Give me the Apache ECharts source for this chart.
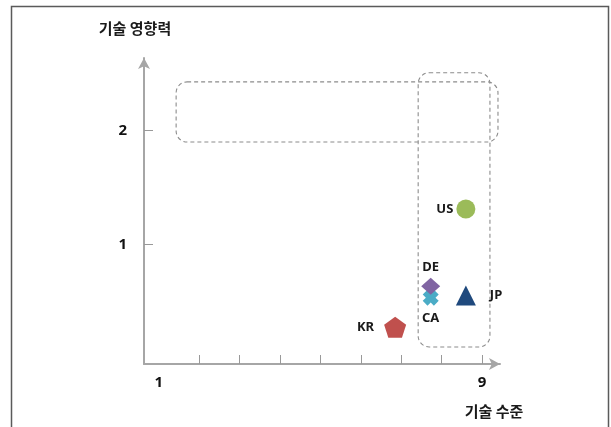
<!DOCTYPE html>
<html>
<head>
<meta charset="utf-8">
<script src="https://cdn.jsdelivr.net/npm/echarts@6/dist/echarts.min.js"></script>
<style>
  html, body { margin: 0; padding: 0; background: #fff; }
  #chart { width: 611px; height: 427px; }
</style>
</head>
<body>
<div id="chart"></div>
<script>
// ---- data ----
const countries = ['KR', 'CA', 'DE', 'JP', 'US'];
const techLevel = [6.85, 7.73, 7.73, 8.60, 8.60];   // 기술 수준 (x)
const techImpact = [0.27, 0.53, 0.63, 0.55, 1.31];  // 기술 영향력 (y)
const xLabelValues = [1, 9];
const xTickValues = [2, 3, 4, 5, 6, 7, 8, 9];
const yLabelValues = [1, 2];
const yTickValues = [1, 2];
const xAxisName = '기술 수준';
const yAxisName = '기술 영향력';
// highlighted regions (data units): [xFrom, xTo, yFrom, yTo]
const highlightBoxes = [
  [1.43, 9.395, 1.90, 2.43],
  [7.42, 9.196, 0.096, 2.51]
];

// ---- styles ----
const pentagonPath = 'path://M10,0 L19.51,6.91 L15.88,18.09 L4.12,18.09 L0.49,6.91 Z';
const crossPath = 'path://M0,3 L3,0 L5,2 L7,0 L10,3 L8,5 L10,7 L7,10 L5,8 L3,10 L0,7 L2,5 Z';
const styles = {
  KR: { symbol: pentagonPath, size: [22, 21], color: '#c0504d', pos: 'left', dist: 10 },
  CA: { symbol: crossPath, size: [16, 16], color: '#4bacc6', pos: 'bottom', dist: 6 },
  DE: { symbol: 'diamond', size: [19, 17], color: '#8064a2', pos: 'top', dist: 4 },
  JP: { symbol: 'triangle', size: [20, 20], color: '#1f497d', pos: 'right', dist: 14 },
  US: { symbol: 'circle', size: [19, 19], color: '#9bbb59', pos: 'left', dist: 3 }
};

const labelFont = { fontFamily: 'Noto Sans', fontWeight: 'bold', fontSize: 13, color: '#1a1a1a' };

const series = countries.map((c, i) => ({
  name: c,
  type: 'scatter',
  symbol: styles[c].symbol,
  symbolSize: styles[c].size,
  itemStyle: { color: styles[c].color, opacity: 1 },
  label: {
    show: true,
    formatter: c,
    position: styles[c].pos,
    distance: styles[c].dist,
    ...labelFont
  },
  data: [[techLevel[i], techImpact[i]]],
  z: 3 + i
}));

const axisLineColor = '#a6a6a6';

const chart = echarts.init(document.getElementById('chart'), null, { renderer: 'canvas' });
const option = {
  backgroundColor: '#ffffff',
  animation: false,
  grid: { left: 144, right: 111, top: 58, bottom: 63 },
  xAxis: {
    type: 'value',
    min: 0.635,
    max: 9.445,
    name: xAxisName,
    nameLocation: 'end',
    nameGap: -6,
    nameTextStyle: {
      fontFamily: 'Noto Sans CJK KR', fontSize: 15, fontWeight: 'bold', color: '#1a1a1a',
      align: 'center', verticalAlign: 'top', padding: [40, 0, 0, 0]
    },
    axisLine: {
      onZero: false,
      lineStyle: { color: axisLineColor, width: 2 },
      symbol: ['none', 'arrow'],
      symbolSize: [9, 11]
    },
    axisTick: {
      show: true, inside: true, length: 9,
      customValues: xTickValues,
      lineStyle: { color: '#999', width: 1 }
    },
    axisLabel: {
      customValues: xLabelValues,
      margin: 11,
      fontFamily: 'Noto Sans', fontWeight: 'bold', fontSize: 15, color: '#111'
    },
    splitLine: { show: false }
  },
  yAxis: {
    type: 'value',
    min: -0.054,
    max: 2.64,
    name: yAxisName,
    nameLocation: 'end',
    nameGap: 22,
    nameTextStyle: {
      fontFamily: 'Noto Sans CJK KR', fontSize: 15, fontWeight: 'bold', color: '#1a1a1a',
      align: 'center', padding: [0, 18, 0, 0]
    },
    axisLine: {
      show: true,
      onZero: false,
      lineStyle: { color: axisLineColor, width: 2 },
      symbol: ['none', 'arrow'],
      symbolSize: [9, 11]
    },
    axisTick: {
      show: true, inside: true, length: 9,
      customValues: yTickValues,
      lineStyle: { color: '#999', width: 1 }
    },
    axisLabel: {
      customValues: yLabelValues,
      margin: 17,
      fontFamily: 'Noto Sans', fontWeight: 'bold', fontSize: 15, color: '#111'
    },
    splitLine: { show: false }
  },
  series: series
};
chart.setOption(option);

// annotation boxes + frame, positioned through the chart's own scales
const graphics = highlightBoxes.map(b => {
  const p1 = chart.convertToPixel({ gridIndex: 0 }, [b[0], b[3]]);
  const p2 = chart.convertToPixel({ gridIndex: 0 }, [b[1], b[2]]);
  return {
    type: 'rect',
    shape: { x: p1[0], y: p1[1], width: p2[0] - p1[0], height: p2[1] - p1[1], r: 11 },
    style: { fill: 'none', stroke: '#8c8c8c', lineWidth: 1.1, lineDash: [4, 3] },
    z: 1
  };
});
graphics.push({
  type: 'rect',
  shape: { x: 11.5, y: 6.5, width: 597, height: 500 },
  style: { fill: 'none', stroke: '#5a5a5a', lineWidth: 1.5 },
  z: 0
});
chart.setOption({ graphic: graphics });
</script>
</body>
</html>
